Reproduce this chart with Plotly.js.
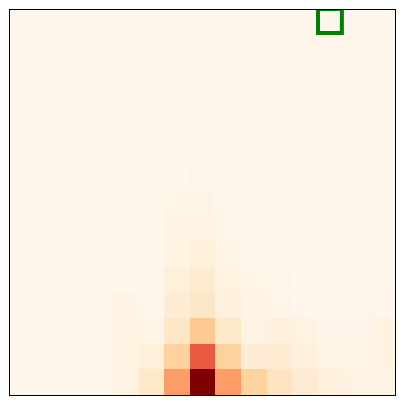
<!DOCTYPE html>
<html>
<head>
<meta charset="utf-8">
<script src="https://cdn.plot.ly/plotly-3.0.1.min.js"></script>
<style>html,body{margin:0;padding:0;background:#fff;}#chart{width:405px;height:405px;}</style>
</head>
<body>
<div id="chart"></div>
<script>
// grid rows listed from bottom (row 0) to top (row 14), 15 columns each
const row0  = [0,0,0,0,0.03,0.12,0.46,1.00,0.46,0.25,0.15,0.09,0.05,0.04,0.03];
const row1  = [0,0,0,0,0.03,0.06,0.26,0.65,0.26,0.08,0.09,0.05,0.02,0.02,0.04];
const row2  = [0,0,0,0,0.03,0.025,0.13,0.31,0.12,0.03,0.05,0.04,0.01,0.01,0.04];
const row3  = [0,0,0,0,0.03,0.005,0.08,0.13,0.05,0.03,0.02,0.01,0.005,0.005,0.005];
const row4  = [0,0,0,0,0,0,0.06,0.09,0.04,0.02,0.005,0,0,0,0];
const row5  = [0,0,0,0,0,0,0.035,0.055,0.02,0,0,0,0,0,0];
const row6  = [0,0,0,0,0,0,0.03,0.03,0,0,0,0,0,0,0];
const row7  = [0,0,0,0,0,0,0.02,0.025,0,0,0,0,0,0,0];
const row8  = [0,0,0,0,0,0,0,0.015,0,0,0,0,0,0,0];
const row9  = [0,0,0,0,0,0,0,0,0,0,0,0,0,0,0];
const row10 = [0,0,0,0,0,0,0,0,0,0,0,0,0,0,0];
const row11 = [0,0,0,0,0,0,0,0,0,0,0,0,0,0,0];
const row12 = [0,0,0,0,0,0,0,0,0,0,0,0,0,0,0];
const row13 = [0,0,0,0,0,0,0,0,0,0,0,0,0,0,0];
const row14 = [0,0,0,0,0,0,0,0,0,0,0,0,0,0,0];
const zRows = [row0,row1,row2,row3,row4,row5,row6,row7,row8,row9,row10,row11,row12,row13,row14];

// highlighted cell (column, row)
const markCol = 12;
const markRow = 14;

const orrd = [
  [0.0,'#fff7ec'],[0.125,'#fee8c8'],[0.25,'#fdd49e'],[0.375,'#fdbb84'],
  [0.5,'#fc8d59'],[0.625,'#ef6548'],[0.75,'#d7301f'],[0.875,'#b30000'],[1.0,'#7f0000']
];

const trace = {
  type: 'heatmap',
  z: zRows,
  colorscale: orrd,
  zmin: 0, zmax: 1,
  showscale: false,
  zsmooth: false,
  hoverinfo: 'skip'
};

const ax = {
  range: [-0.5, 14.5],
  showticklabels: false,
  ticks: '',
  showgrid: false,
  zeroline: false,
  showline: true,
  mirror: true,
  linecolor: '#000',
  linewidth: 1
};

const layout = {
  width: 405, height: 405,
  margin: {l: 10, r: 10, t: 10, b: 10, pad: 0},
  paper_bgcolor: '#fff',
  plot_bgcolor: '#fff7ec',
  xaxis: Object.assign({}, ax),
  yaxis: Object.assign({}, ax),
  shapes: [{
    type: 'rect', xref: 'x', yref: 'y',
    x0: markCol - 0.5, x1: markCol + 0.43,
    y0: markRow - 0.4, y1: markRow + 0.54,
    line: {color: '#008000', width: 4},
    fillcolor: 'rgba(0,0,0,0)'
  }]
};

Plotly.newPlot('chart', [trace], layout, {staticPlot: true, displayModeBar: false});
</script>
</body>
</html>
